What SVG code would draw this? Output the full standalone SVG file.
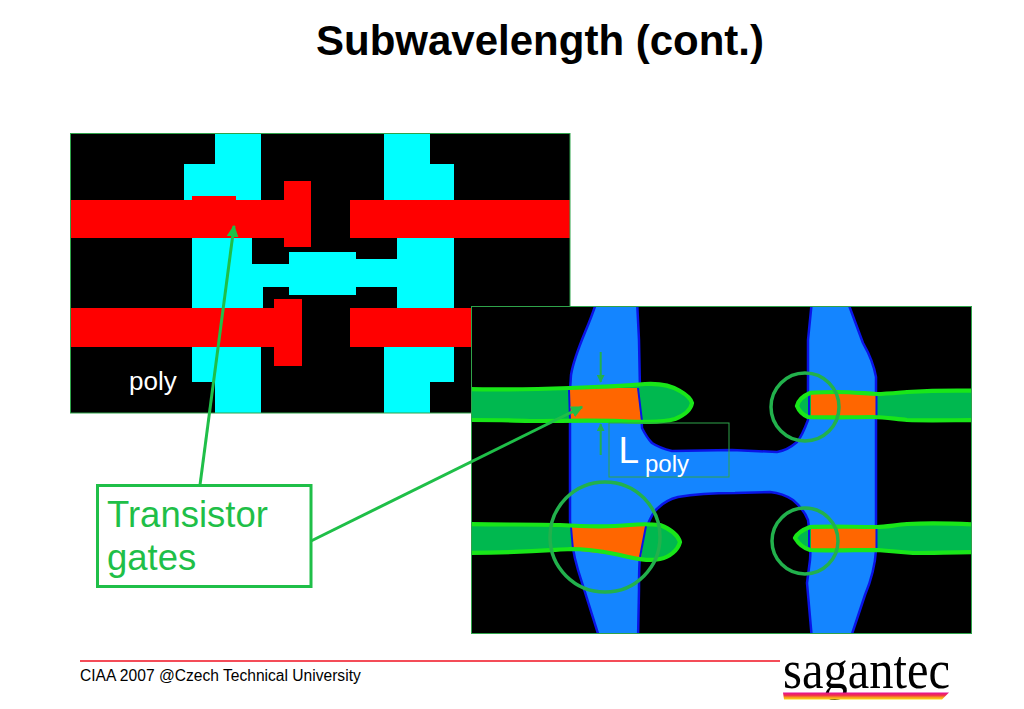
<svg xmlns="http://www.w3.org/2000/svg" width="1024" height="709" viewBox="0 0 1024 709">
<style>
.s{font-family:"Liberation Sans",Arial,sans-serif}
.cy{fill:#00ffff}.rd{fill:#ff0000}
.blue{fill:#1485ff;stroke:#0a14e6;stroke-width:2.5;stroke-linejoin:round}
.pf{fill:#00b84f}
.ps{fill:none;stroke:#19e619;stroke-width:4.2;stroke-linejoin:round}
.or{fill:#ff6600}
.edge{fill:none;stroke:#0a14e6;stroke-width:2}
.ring{fill:none;stroke:#22b14c;stroke-width:3.5}
.con{fill:none;stroke:#1fbf48;stroke-width:3}
.dim{fill:none;stroke:#22b14c;stroke-width:2}
.frame{fill:none;stroke:#2fa34a;stroke-width:1}
</style>
<defs>
<marker id="ah" viewBox="0 0 10 10" refX="9" refY="5" markerWidth="4" markerHeight="4" orient="auto"><path d="M0 0L10 5L0 10z" fill="#1fbf48"/></marker>
<marker id="ad" viewBox="0 0 10 10" refX="9" refY="5" markerWidth="4" markerHeight="4" orient="auto"><path d="M0 0L10 5L0 10z" fill="#22b14c"/></marker>
<linearGradient id="st" x1="0" y1="0" x2="0" y2="1"><stop offset="0" stop-color="#e6109a"/><stop offset=".4" stop-color="#f0304a"/><stop offset=".7" stop-color="#f79a1e"/><stop offset="1" stop-color="#fbd916"/></linearGradient>
<clipPath id="p2"><rect x="471.500" y="306.500" width="500" height="327"/></clipPath>
<path id="g1" d="M460 389C500 390 540 389 570 388C600 387 625 386 645 384C662 383 672 386 680 391C687 395 691 399 692 403C691 409 685 415 675 419C660 423 640 422 620 421C590 420 560 421 530 421C510 420 490 420 460 420Z"/>
<path id="g2" d="M460 524C500 525 530 524 560 525C590 527 610 527 630 525C640 524 650 524 660 525C670 529 678 535 680 542C678 550 670 557 660 559C645 562 630 557 615 554C595 550 580 549 570 549C550 550 520 553 460 553Z"/>
<path id="g3" d="M985 391C950 390 925 391 907 392C895 393 885 394 877 394C860 393 850 392 837 392C825 392 815 392 810 393C803 396 798 401 797 406C799 411 803 415 808 417C830 418 850 417 873 417C885 417 895 419 907 420C930 421 955 420 985 420Z"/>
<path id="g4" d="M985 525C950 523 925 523 907 524C895 525 885 527 877 527C850 527 830 526 810 527C802 530 797 534 795 538C798 543 803 548 810 550C830 551 855 550 877 550C890 551 900 552 913 553C935 553 955 552 985 552Z"/>
</defs>
<rect width="1024" height="709" fill="#fff"/>
<text id="title" class="s" x="316" y="55" font-size="42" font-weight="bold" fill="#000">Subwavelength (cont.)</text>

<g id="layout-drawn">
<rect x="70.500" y="133.500" width="499.500" height="279.500" fill="#000"/>
<path class="cy" d="M215 134H261V200H184V164H215Z"/>
<path class="cy" d="M384 134H430V164H454V200H384Z"/>
<path class="cy" d="M192 238H252V264H289V252H356V259H397V238H454V308H397V287H356V295H289V287H263V308H192Z"/>
<path class="cy" d="M192 347H261V413H215V382H192Z"/>
<path class="cy" d="M384 347H454V382H430V413H384Z"/>
<path class="rd" d="M71 200H192V196H236V200H284V181H311V247H284V238H71Z"/>
<path class="rd" d="M350 200H570V238H350Z"/>
<path class="rd" d="M71 308H274V299H302V366H274V347H71Z"/>
<path class="rd" d="M350 308H570V347H350Z"/>
<rect class="frame" x="70.500" y="133.500" width="499.500" height="279.500"/>
<text class="s" x="129" y="390" font-size="26" fill="#fff">poly</text>
</g>

<g id="layout-printed">
<rect x="471.500" y="306.500" width="500" height="327" fill="#000"/>
<g clip-path="url(#p2)">
<path class="blue" d="M597 300C590 325 575 350 571 375L570 390V520C571 545 575 560 578 570L600 640H638L639 590C639 575 639 565 640 557C642 545 644 535 647 527C650 518 653 512 658 508C664 502 670 499 678 497C695 494 715 493 735 493L770 492C780 493 787 496 793 500C800 506 805 512 808 520C810 535 811 548 810 560L807 583L812 640H850L865 595C870 583 875 568 876 550V377C873 360 867 350 863 343L847 300H812L808 340V400C808 407 808 414 808 420C805 428 802 436 797 442C790 448 784 451 777 452L732 450L672 451C664 449 658 447 652 443C648 439 645 434 642 428L640 390L639 340L637 300Z"/>
<use href="#g1" class="pf"/><use href="#g2" class="pf"/><use href="#g3" class="pf"/><use href="#g4" class="pf"/>
<path class="or" d="M569 388H638L641 422H570Z"/>
<path class="or" d="M571 525H646L641 558L572 550Z"/>
<path class="or" d="M811 392H876V418H811Z"/>
<path class="or" d="M811 526H876V551H811Z"/>
<path class="edge" d="M569 390L570 421M638 388L642 421M571 527L573 550M646 526L640 557M809 394V417M876.500 394V417M809 528V550M876.500 527V550"/>
<use href="#g1" class="ps"/><use href="#g2" class="ps"/><use href="#g3" class="ps"/><use href="#g4" class="ps"/>
</g>
<rect class="frame" x="471.500" y="306.500" width="500" height="327"/>
<circle class="ring" cx="605" cy="537" r="55"/>
<circle class="ring" cx="805" cy="407" r="34"/>
<circle class="ring" cx="805" cy="541" r="33"/>
<line class="dim" x1="600.700" y1="352" x2="600.700" y2="382" marker-end="url(#ad)"/>
<line class="dim" x1="600.700" y1="455" x2="600.700" y2="424" marker-end="url(#ad)"/>
<rect class="frame" x="609" y="423" width="120" height="54"/>
<text class="s" x="618.500" y="463" font-size="37" fill="#fff">L</text>
<text class="s" x="645" y="472" font-size="24" fill="#fff">poly</text>
</g>

<g id="connectors">
<line class="con" x1="200" y1="485" x2="234" y2="226" marker-end="url(#ah)"/>
<line class="con" x1="311" y1="541" x2="582" y2="407" marker-end="url(#ah)"/>
</g>

<g id="gates-label">
<rect x="97.500" y="485.500" width="213.500" height="101" fill="#fff" stroke="#1fbf48" stroke-width="3"/>
<text class="s" x="107" y="527" font-size="36.500" fill="#1fbf48">Transistor</text>
<text class="s" x="107" y="570" font-size="36.500" fill="#1fbf48">gates</text>
</g>

<g id="footer">
<line x1="80" y1="661" x2="780" y2="661" stroke="#f01020" stroke-width="1.400"/>
<text class="s" x="80" y="681" font-size="15.600" fill="#000">CIAA 2007 @Czech Technical University</text>
</g>
<g id="logo">
<text x="783" y="688" font-family="'Liberation Serif',serif" font-size="54" textLength="167" lengthAdjust="spacingAndGlyphs" fill="#000">sagantec</text>
<path d="M783 692.500H949L942 699.500H784Z" fill="url(#st)"/>
</g>
</svg>
